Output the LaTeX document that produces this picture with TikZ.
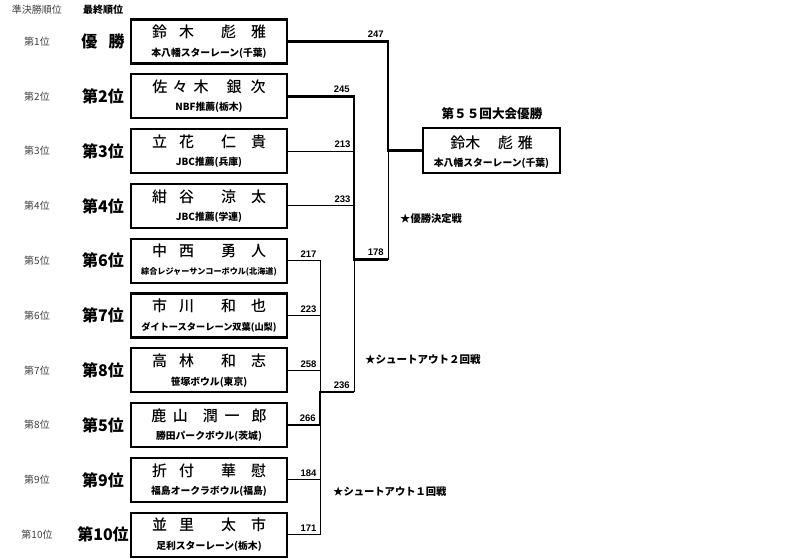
\documentclass[tikz,border=0pt]{standalone}
\usepackage{fontspec}
\newfontfamily\jpfont{Noto Sans CJK JP}
\newfontfamily\jpmed{Noto Sans CJK JP Medium}
\newfontfamily\numfont{Liberation Sans}
\tikzset{
  box/.style={draw,line width=2.2pt,minimum width=156pt,minimum height=44pt,inner sep=0pt},
  pname/.style={font=\jpmed\fontsize{15}{15}\selectfont,inner sep=0pt},
  club/.style={font=\jpfont\bfseries\fontsize{9.8}{9.8}\selectfont,inner sep=0pt},
  semirank/.style={font=\jpfont\fontsize{10}{10}\selectfont,text=black!75,inner sep=0pt},
  finalrank/.style={font=\jpfont\bfseries\fontsize{16}{16}\selectfont,inner sep=0pt},
  note/.style={font=\jpfont\bfseries\fontsize{10.3}{10.3}\selectfont,anchor=west,inner sep=0pt},
  score/.style={font=\numfont\bfseries\fontsize{9.5}{9.5}\selectfont,anchor=south east,inner sep=0pt,xshift=-3pt,yshift=2.5pt},
  won/.style={line width=2.6pt},
  lost/.style={line width=1pt}
}
\newcommand{\player}[6]{
  % Rank columns
  \node[semirank] (#1s) at (37,#2) {#3};
  \node[finalrank] (#1f) at (103,#2) {#4};
  % Name box
  \node[box] (#1) at (209,#2) {};
  \node[pname] (#1n) at ([yshift=9.5pt]#1.center) {#5};
  \node[club] (#1c) at ([yshift=-11.5pt]#1.center) {#6};
}
\begin{document}
\begin{tikzpicture}[x=1pt,y=-1pt]
  \useasboundingbox (0,0) rectangle (800,559);

  % Column headers
  \node[semirank] (hsemi) at (37,10) {準決勝順位};
  \node[font=\jpfont\bfseries\fontsize{10}{10}\selectfont,inner sep=0pt] (hfinal) at (103,10) {最終順位};

  % The players
  \player{p1}{41.5}{第1位}{優\hspace{0.7em}勝}{鈴\hspace{0.8em}木\hspace{1.8em}彪\hspace{1em}雅}{本八幡スターレーン(千葉)}
  \player{p2}{96.3}{第2位}{第2位}{佐\hspace{0.35em}々\hspace{0.4em}木\hspace{1.2em}銀\hspace{0.6em}次}{NBF推薦(栃木)}
  \player{p3}{151.1}{第3位}{第3位}{立\hspace{0.8em}花\hspace{1.8em}仁\hspace{1em}貴}{JBC推薦(兵庫)}
  \player{p4}{205.9}{第4位}{第4位}{紺\hspace{0.8em}谷\hspace{1.8em}涼\hspace{1em}太}{JBC推薦(学連)}
  \player{p5}{260.7}{第5位}{第6位}{中\hspace{0.8em}西\hspace{1.8em}勇\hspace{1em}人}{\fontsize{8.1}{8.1}\selectfont 綜合レジャーサンコーボウル(北海道)}
  \player{p6}{315.5}{第6位}{第7位}{市\hspace{0.8em}川\hspace{1.8em}和\hspace{1em}也}{\fontsize{9.2}{9.2}\selectfont ダイトースターレーン双葉(山梨)}
  \player{p7}{370.3}{第7位}{第8位}{高\hspace{0.8em}林\hspace{1.8em}和\hspace{1em}志}{笹塚ボウル(東京)}
  \player{p8}{425.1}{第8位}{第5位}{鹿\hspace{0.45em}山\hspace{1em}潤\hspace{0.45em}一\hspace{0.8em}郎}{勝田パークボウル(茨城)}
  \player{p9}{479.9}{第9位}{第9位}{折\hspace{0.8em}付\hspace{1.8em}華\hspace{1em}慰}{福島オークラボウル(福島)}
  \player{p10}{534.7}{第10位}{第10位}{並\hspace{0.8em}里\hspace{1.8em}太\hspace{1em}市}{足利スターレーン(栃木)}

  % The champion
  \node[font=\jpfont\bfseries\fontsize{12.6}{12.6}\selectfont,inner sep=0pt] (title) at (492,114) {第５５回大会優勝};
  \node[box,minimum width=137pt,minimum height=45pt] (fin) at (491.5,150.5) {};
  \node[pname] (finn) at ([yshift=7.5pt]fin.center) {鈴木\hspace{1.2em}彪\hspace{0.3em}雅};
  \node[club] (finc) at ([yshift=-12.5pt]fin.center) {本八幡スターレーン(千葉)};

  % Bracket joints
  \coordinate (j1) at (388,41.5);
  \coordinate (j2) at (388,259.5);
  \coordinate (k1) at (354,96.3);
  \coordinate (k2) at (354,259.5);
  \coordinate (k3) at (354,392);
  \coordinate (m0) at (320,260.7);
  \coordinate (m1) at (320,392);
  \coordinate (m2) at (320,425.1);
  \coordinate (m3) at (320,534.7);

  % Final
  \draw[won] (p1.east) -- (j1) node[score] {247} |- (fin.west);
  \draw[lost] (fin.west -| j1) -- (j2);
  % Shootout round 2
  \draw[won] (p2.east) -- (k1) node[score] {245} -- (k2) -- (j2) node[score] {178};
  \draw[lost] (p3.east) -- (p3.east -| k1) node[score] {213};
  \draw[lost] (p4.east) -- (p4.east -| k1) node[score] {233};
  \draw[lost] (k2) -- (k3);
  % Shootout round 1
  \draw[won] (p8.east) -- (m2) node[score] {266} -- (m1) -- (k3) node[score] {236};
  \draw[lost] (p5.east) -- (m0) node[score] {217} -- (m1);
  \draw[lost] (p6.east) -- (p6.east -| m0) node[score] {223};
  \draw[lost] (p7.east) -- (p7.east -| m0) node[score] {258};
  \draw[lost] (m2) -- (m3);
  \draw[lost] (p9.east) -- (p9.east -| m0) node[score] {184};
  \draw[lost] (p10.east) -- (m3) node[score] {171};

  % Round notes
  \node[note] (n3) at (400,219) {★優勝決定戦};
  \node[note,font=\jpfont\bfseries\fontsize{10.5}{10.5}\selectfont] (n2) at (365,360) {★シュートアウト２回戦};
  \node[note] (n1) at (333,492) {★シュートアウト１回戦};
\end{tikzpicture}
\end{document}
